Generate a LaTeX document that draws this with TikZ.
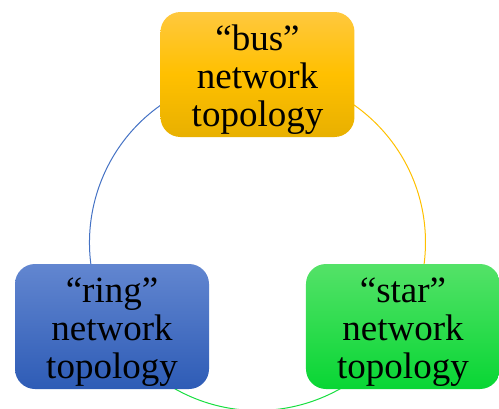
\documentclass[tikz,border=0pt]{standalone}
\usepackage{fontspec}
\setmainfont{Liberation Serif}
\usetikzlibrary{backgrounds}

\definecolor{busTop}{RGB}{255,200,62}
\definecolor{busMid}{RGB}{255,192,0}
\definecolor{busBot}{RGB}{232,176,0}
\definecolor{ringTop}{RGB}{98,134,208}
\definecolor{ringBot}{RGB}{46,92,182}
\definecolor{starTop}{RGB}{84,226,104}
\definecolor{starBot}{RGB}{8,214,52}
\definecolor{ringLine}{RGB}{68,114,196}
\definecolor{busLine}{RGB}{255,192,0}
\definecolor{starLine}{RGB}{24,222,64}

% taller first line pushes the text block a little down
\newcommand{\topstrut}{\rule{0pt}{35pt}}

\begin{document}
\begin{tikzpicture}[x=1pt,y=1pt,
	topo/.style={rounded corners=20pt, minimum width=194pt, minimum height=125pt,
		inner sep=0pt, align=center, font=\fontsize{37}{38}\selectfont},
	link/.style={line width=1pt}]
	\useasboundingbox (-257.5,242.5) rectangle (241.5,-165.5);
	\def\r{168}

	% the three boxes sit on one circle
	\node[topo, top color=busTop, bottom color=busBot, middle color=busMid] (bus) at (90:\r) {\topstrut“bus”\\network\\topology};
	\node[topo, top color=ringTop, bottom color=ringBot] (ring) at (210:\r) {\topstrut“ring”\\network\\topology};
	\node[topo, top color=starTop, bottom color=starBot] (star) at (-30:\r) {\topstrut“star”\\network\\topology};

	% arcs go behind the boxes
	\begin{scope}[on background layer]
		\draw[link, ringLine] (ring.center) arc[start angle=210, end angle=90, radius=\r];
		\draw[link, busLine] (bus.center) arc[start angle=90, end angle=-30, radius=\r];
		\draw[link, starLine] (star.center) arc[start angle=-30, end angle=-150, radius=\r];
	\end{scope}
\end{tikzpicture}
\end{document}
